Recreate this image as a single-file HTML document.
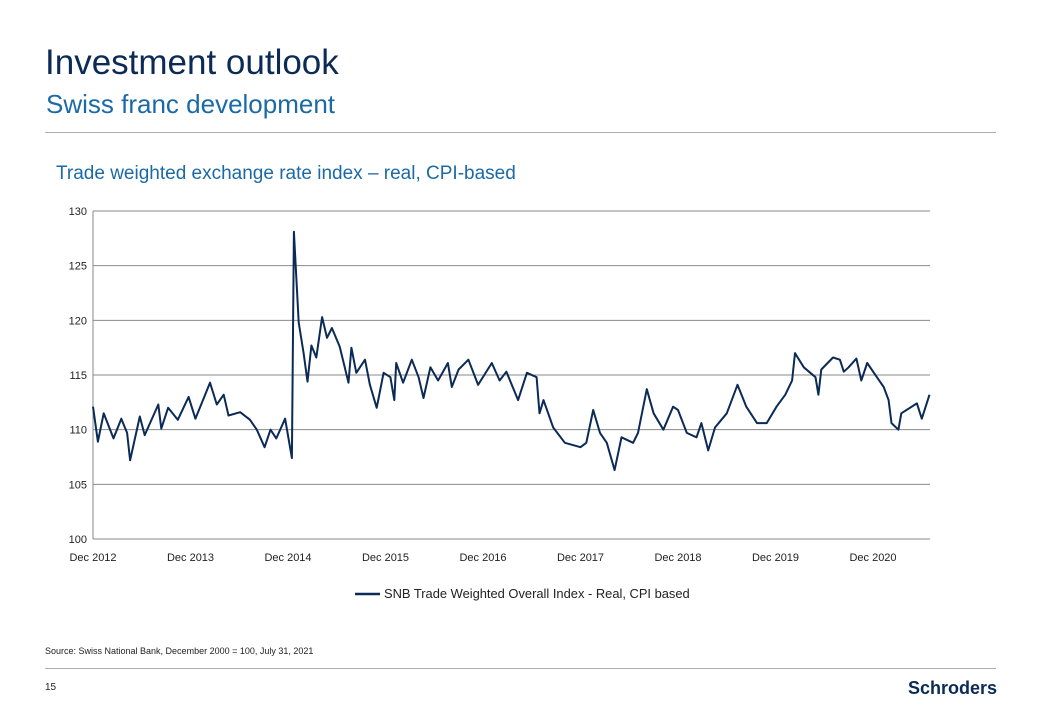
<!DOCTYPE html>
<html><head><meta charset="utf-8"><style>
body{margin:0;width:1040px;height:720px;background:#fff;font-family:"Liberation Sans",sans-serif;position:relative;overflow:hidden}
.abs{position:absolute;white-space:nowrap}
</style></head><body>
<div class="abs" style="left:45px;top:43px;font-size:35px;color:#0b2a55">Investment outlook</div>
<div class="abs" style="left:46px;top:89px;font-size:26px;color:#1b6aa5">Swiss franc development</div>
<div class="abs" style="left:45px;top:132px;width:951px;height:1px;background:#b0b0b0"></div>
<div class="abs" style="left:56px;top:163px;font-size:19px;color:#1b6aa5">Trade weighted exchange rate index – real, CPI-based</div>
<svg class="abs" style="left:0;top:0" width="1040" height="720">
<g id="grid"></g><g id="axes"></g><path id="line" fill="none" stroke="#0b2a55" stroke-width="2" stroke-linejoin="round"/>
<line x1="355" y1="594" x2="380" y2="594" stroke="#0b2a55" stroke-width="2.5"/>
<text x="384" y="598" font-size="12.9" fill="#222" font-family="Liberation Sans">SNB Trade Weighted Overall Index - Real, CPI based</text>
</svg>
<div class="abs" style="left:45px;top:646px;font-size:9px;color:#222">Source: Swiss National Bank, December 2000 = 100, July 31, 2021</div>
<div class="abs" style="left:45px;top:668px;width:951px;height:1px;background:#b0b0b0"></div>
<div class="abs" style="left:45px;top:682px;font-size:10px;color:#222">15</div>
<div class="abs" style="left:908px;top:678px;font-size:18px;font-weight:bold;color:#0b2a55">Schroders</div>
<script>
const yTicks=[100,105,110,115,120,125,130];
const xLabels=["Dec 2012","Dec 2013","Dec 2014","Dec 2015","Dec 2016","Dec 2017","Dec 2018","Dec 2019","Dec 2020"];
const years=[0,0.05,0.11,0.21,0.29,0.35,0.38,0.48,0.53,0.67,0.70,0.77,0.87,0.98,1.05,1.20,1.27,1.34,1.39,1.51,1.61,1.68,1.76,1.82,1.88,1.97,2.04,2.06,2.11,2.16,2.20,2.24,2.29,2.35,2.40,2.45,2.53,2.62,2.65,2.70,2.79,2.84,2.91,2.98,3.05,3.09,3.11,3.18,3.27,3.34,3.39,3.46,3.54,3.64,3.68,3.75,3.85,3.95,4.09,4.17,4.24,4.36,4.45,4.55,4.58,4.62,4.72,4.84,5.00,5.06,5.13,5.20,5.27,5.35,5.42,5.54,5.59,5.68,5.75,5.85,5.95,6.00,6.09,6.19,6.24,6.31,6.38,6.50,6.61,6.70,6.81,6.91,7.01,7.10,7.17,7.20,7.29,7.41,7.44,7.47,7.59,7.66,7.70,7.75,7.83,7.88,7.94,8.04,8.11,8.16,8.19,8.26,8.29,8.45,8.50,8.58];
const values=[112.1,108.9,111.5,109.2,111,109.7,107.2,111.2,109.5,112.3,110.1,112,110.9,113,111,114.3,112.3,113.2,111.3,111.6,110.9,110,108.4,110,109.2,111,107.4,128.1,119.8,117,114.4,117.7,116.6,120.3,118.4,119.3,117.6,114.3,117.5,115.2,116.4,114.1,112,115.2,114.8,112.7,116.1,114.3,116.4,114.8,112.9,115.7,114.5,116.1,113.9,115.5,116.4,114.1,116.1,114.5,115.3,112.7,115.2,114.8,111.5,112.7,110.2,108.8,108.4,108.8,111.8,109.7,108.8,106.3,109.3,108.8,109.7,113.7,111.5,110,112.1,111.8,109.7,109.3,110.6,108.1,110.2,111.5,114.1,112.1,110.6,110.6,112.1,113.2,114.5,117,115.7,114.8,113.2,115.5,116.6,116.4,115.3,115.7,116.5,114.5,116.1,114.8,113.9,112.7,110.6,110,111.5,112.4,111,113.2];
const X0=93,X1=930,Y0=539,Y1=211,PX_YR=97.5;
const xs=t=>X0+t*PX_YR, ys=v=>Y0-(v-100)/30*(Y0-Y1);
const ns="http://www.w3.org/2000/svg";
const g=document.getElementById('grid'),a=document.getElementById('axes');
yTicks.forEach(v=>{
 const l=document.createElementNS(ns,'line');
 
 
 l.setAttribute('x1',X0);l.setAttribute('x2',X1);l.setAttribute('y1',ys(v));l.setAttribute('y2',ys(v));
 l.setAttribute('stroke','#8a8a8a');l.setAttribute('stroke-width','1');g.appendChild(l);
 const t=document.createElementNS(ns,'text');
 
 
 t.setAttribute('x',X0-6);t.setAttribute('y',ys(v)+4);t.setAttribute('text-anchor','end');t.setAttribute('font-size','11');t.setAttribute('fill','#222');t.setAttribute('font-family','Liberation Sans');
 t.textContent=v;a.appendChild(t);
});
const ax=document.createElementNS(ns,'line');


ax.setAttribute('x1',X0);ax.setAttribute('x2',X0);ax.setAttribute('y1',Y1);ax.setAttribute('y2',Y0);ax.setAttribute('stroke','#888');a.appendChild(ax);
xLabels.forEach((s,i)=>{
 const t=document.createElementNS(ns,'text');
 
 
 t.setAttribute('x',xs(i));t.setAttribute('y',Y0+22);t.setAttribute('text-anchor','middle');t.setAttribute('font-size','11');t.setAttribute('fill','#222');t.setAttribute('font-family','Liberation Sans');
 t.textContent=s;a.appendChild(t);
});
const p=document.getElementById('line');


p.setAttribute('d',years.map((t,i)=>(i?'L':'M')+xs(t).toFixed(1)+','+ys(values[i]).toFixed(1)).join(''));
</script>
</body></html>
